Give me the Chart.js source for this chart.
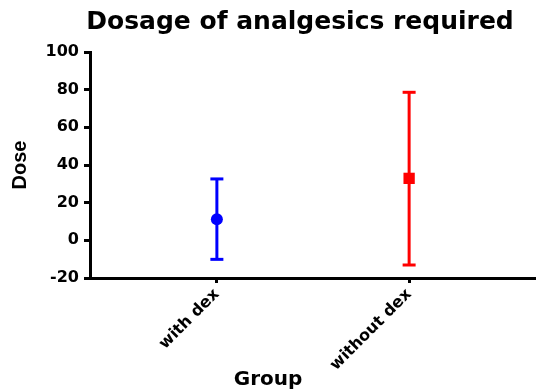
<!DOCTYPE html>
<html>
<head>
<meta charset="utf-8">
<script src="https://cdn.jsdelivr.net/npm/chart.js@4/dist/chart.umd.min.js"></script>
<style>
  html, body { margin: 0; padding: 0; background: #fff; }
  #wrap { width: 536px; height: 389px; }
</style>
</head>
<body>
<div id="wrap"><canvas id="myChart" width="536" height="389"></canvas></div>
<script>
// values
const groups = ['with dex', 'without dex'];
const groupPos = [1, 2];
const means = [11.2, 32.9];
const lower = [-10.1, -13.1];
const upper = [32.6, 78.6];
const colors = ['#0000ff', '#ff0000'];
const markers = ['circle', 'rect'];

const titleText = 'Dosage of analgesics required';
const xTitle = 'Group';
const yTitle = 'Dose';

// error bars + mean markers, one pair of datasets per group
let datasets = [];
groups.forEach((g, i) => {
    datasets.push({
        label: g + ' range',
        data: [{x: groupPos[i], y: lower[i]}, {x: groupPos[i], y: upper[i]}],
        showLine: true,
        borderColor: colors[i],
        borderWidth: 3,
        pointStyle: 'line',
        pointRadius: 6.5,
        pointBorderWidth: 3,
        pointBorderColor: colors[i]
    });
    datasets.push({
        label: g,
        data: [{x: groupPos[i], y: means[i]}],
        pointStyle: markers[i],
        pointRadius: markers[i] == 'rect' ? 8 : 6,
        backgroundColor: colors[i],
        borderColor: colors[i],
        pointBorderWidth: 0
    });
});

// title and x axis title are placed off-centre in the original
const textPlugin = {
    id: 'textPlugin',
    afterDraw(chart) {
        const ctx = chart.ctx;
        ctx.save();
        ctx.fillStyle = '#000';
        ctx.textAlign = 'center';
        ctx.textBaseline = 'alphabetic';
        ctx.font = 'bold 25px "DejaVu Sans"';
        ctx.fillText(titleText, 300, 29);
        ctx.font = 'bold 20px "DejaVu Sans"';
        ctx.fillText(xTitle, 268, 385);
        ctx.restore();
    }
};

const ctx = document.getElementById('myChart').getContext('2d');
const chart = new Chart(ctx, {
    type: 'scatter',
    data: { datasets: datasets },
    plugins: [textPlugin],
    options: {
        responsive: false,
        animation: false,
        layout: { autoPadding: false, padding: { top: 52, right: 0, left: 0, bottom: 0 } },
        plugins: {
            legend: { display: false },
            tooltip: { enabled: false },
            title: { display: false }
        },
        scales: {
            x: {
                type: 'linear',
                min: 0.34,
                max: 2.66,
                afterBuildTicks: (scale) => {
                    scale.ticks = groupPos.map(v => ({ value: v }));
                },
                afterFit: (scale) => {
                    scale.height = 111;
                    scale.paddingRight = 0;
                    scale.paddingLeft = 0;
                },
                ticks: {
                    color: '#000',
                    font: { family: 'DejaVu Sans', size: 16, weight: 'bold' },
                    minRotation: 45,
                    maxRotation: 45,
                    padding: 2,
                    callback: (v) => groups[groupPos.indexOf(v)]
                },
                grid: {
                    drawOnChartArea: false,
                    drawTicks: true,
                    tickLength: 5,
                    tickWidth: 3,
                    tickColor: '#000'
                },
                border: { display: true, color: '#000', width: 3 }
            },
            y: {
                min: -20,
                max: 100,
                afterFit: (scale) => { scale.width = 90; },
                ticks: {
                    stepSize: 20,
                    color: '#000',
                    font: { family: 'DejaVu Sans', size: 16, weight: 'bold' },
                    padding: 5
                },
                grid: {
                    drawOnChartArea: false,
                    drawTicks: true,
                    tickLength: 6,
                    tickWidth: 3,
                    tickColor: '#000'
                },
                border: { display: true, color: '#000', width: 3 },
                title: {
                    display: true,
                    text: yTitle,
                    color: '#000',
                    font: { family: 'Liberation Sans', size: 20, weight: 'bold' },
                    padding: { top: 8, bottom: 0 }
                }
            }
        }
    }
});
</script>
</body>
</html>
